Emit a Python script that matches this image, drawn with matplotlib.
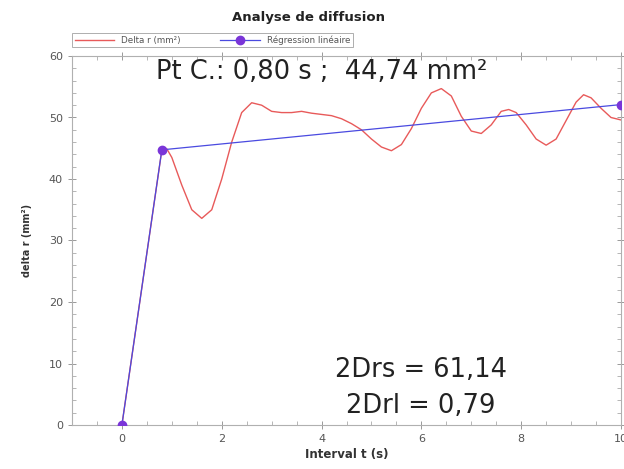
import matplotlib
matplotlib.use("Agg")
import matplotlib.pyplot as plt
from matplotlib.ticker import MultipleLocator

plt.rcParams['font.family'] = ['DejaVu Sans']

# Delta r curve
t_delta = [0.0, 0.8, 0.9, 1.0, 1.2, 1.4, 1.6, 1.8, 2.0, 2.2, 2.4, 2.6, 2.8, 3.0,
           3.2, 3.4, 3.6, 3.8, 4.0, 4.2, 4.4, 4.6, 4.8, 5.0, 5.2, 5.4, 5.6, 5.8,
           6.0, 6.2, 6.4, 6.6, 6.8, 7.0, 7.2, 7.4, 7.6, 7.75, 7.9, 8.1, 8.3, 8.5,
           8.7, 8.9, 9.1, 9.25, 9.4, 9.6, 9.8, 10.0]
delta_r = [0.0, 44.7, 44.9, 43.5, 39.0, 35.0, 33.6, 35.0, 40.0, 46.0, 50.8, 52.4,
           52.0, 51.0, 50.8, 50.8, 51.0, 50.7, 50.5, 50.3, 49.8, 49.0, 48.0, 46.5,
           45.2, 44.6, 45.6, 48.2, 51.5, 54.0, 54.7, 53.5, 50.2, 47.8, 47.4, 48.8,
           51.0, 51.3, 50.8, 48.8, 46.5, 45.5, 46.5, 49.5, 52.5, 53.7, 53.2, 51.5,
           50.0, 49.6]

# Linear regression points
t_reg = [0.0, 0.80, 10.0]
reg = [0.0, 44.74, 52.1]

xticks = [0, 2, 4, 6, 8, 10]
yticks = [0, 10, 20, 30, 40, 50, 60]

fig = plt.figure(figsize=(6.24, 4.69), dpi=100)
ax = fig.add_axes([72/624, 1 - 425/469, (621 - 72)/624, (425 - 56)/469])

ax.plot(t_delta, delta_r, color='#e85a5a', lw=1.0, label='Delta r (mm²)', zorder=2)
ax.plot(t_reg, reg, color='#4a4ae0', lw=0.9, marker='o', ms=6,
        mfc='#7a35d8', mec='#7a35d8', label='Régression linéaire', zorder=3,
        clip_on=True)

ax.set_xlim(-1, 10)
ax.set_ylim(0, 60)
ax.set_xticks(xticks)
ax.set_yticks(yticks)
ax.xaxis.set_minor_locator(MultipleLocator(0.5))
ax.yaxis.set_minor_locator(MultipleLocator(2))
for s in ax.spines.values():
    s.set_color('#b0b0b0')
    s.set_linewidth(0.8)
ax.tick_params(which='major', direction='inout', length=6, width=0.7, color='#999999',
               labelsize=8, labelcolor='#555555', top=True, right=True)
ax.tick_params(which='minor', direction='in', length=3, width=0.6, color='#aaaaaa',
               top=True, right=True)

ax.set_xlabel('Interval t (s)', fontsize=8.5, fontweight='bold', color='#333333', labelpad=3)
ax.set_ylabel('delta r (mm²)', fontsize=7, fontweight='bold', color='#333333', labelpad=12)

fig.text(308/624, 1 - 18/469, 'Analyse de diffusion', ha='center', va='center',
         fontsize=9.5, fontweight='bold', color='#222222')

ax.text(0.455, 0.957, 'Pt C.: 0,80 s ;  44,74 mm²', transform=ax.transAxes,
        ha='center', va='center', fontsize=18.5, color='#222222')
ax.text(0.636, 0.149, '2Drs = 61,14', transform=ax.transAxes,
        ha='center', va='center', fontsize=18.5, color='#222222')
ax.text(0.636, 0.052, '2Drl = 0,79', transform=ax.transAxes,
        ha='center', va='center', fontsize=18.5, color='#222222')

leg = fig.legend(loc='center left', bbox_to_anchor=(68/624, 1 - 40/469), ncol=2,
                 fontsize=6.3, frameon=True, fancybox=False, edgecolor='#999999',
                 handlelength=4.5, columnspacing=4.5, borderpad=0.3, labelcolor='#555555')
leg.get_frame().set_linewidth(0.7)

fig.savefig('out.png', dpi=100)
